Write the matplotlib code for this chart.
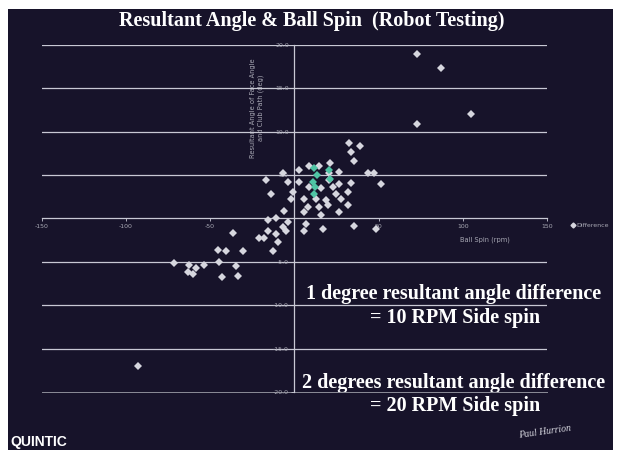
import matplotlib
matplotlib.use("Agg")
import matplotlib.pyplot as plt
from matplotlib.patches import Rectangle
from matplotlib.lines import Line2D

# ---- data ----
spin_main = [73.0, 87.3, 105.1, 73.0, -92.6,
             -71.3, -62.4, -58.4, -63.4, -60.4, -53.4, -44.5, -45.5, -40.6, -36.6,
             -30.7, -34.6, -43.2, -33.7, -12.9, -9.9, -10.9, -20.8, -17.8, -15.8,
             -4.9, -6.9,
             32.7, 39.0, 33.7, 35.6, 21.2, 14.4, 8.5, 3.0, 26.7, 43.5, 47.5, -6.9,
             20.8, -16.8, -4.0, 3.0, 20.8, 26.7, 33.7, 51.5, 8.9, 15.9, 22.7, -13.8,
             -1.0, 24.8, 31.7, -2.0, 5.9, 12.9, 18.8, 27.7, 7.9, 14.8, 19.8, 31.7,
             -5.9, 5.9, 15.9, 26.7, -15.9, -10.9, -4.0, 6.9, 16.8, 35.6, 48.5, 5.9]
angle_main = [19.0, 17.3, 12.0, 10.9, -17.0,
              -5.1, -5.35, -5.75, -6.2, -6.4, -5.35, -5.05, -3.6, -3.7, -1.7,
              -3.8, -5.5, -6.7, -6.6, -3.8, -2.7, -1.75, -2.2, -2.3, -1.4,
              -1.4, -1.0,
              8.7, 8.4, 7.7, 6.6, 6.4, 6.0, 6.0, 5.6, 5.35, 5.2, 5.2, 5.2,
              5.2, 4.4, 4.2, 4.2, 4.4, 4.0, 4.1, 4.0, 3.6, 3.55, 3.6, 2.85,
              3.0, 2.85, 3.1, 2.3, 2.3, 2.3, 2.1, 2.3, 1.3, 1.3, 1.5, 1.5,
              0.9, 0.7, 0.35, 0.7, -0.2, 0.0, -0.4, -0.6, -1.2, -0.9, -1.2, -1.4]
spin_teal = [11.9, 13.7, 11.3, 12.5, 11.9, 20.8, 21.4]
angle_teal = [5.8, 5.0, 4.2, 3.6, 2.85, 5.6, 4.6]

x_ticks = [-150, -100, -50, 0, 50, 100, 150]
y_ticks = [-20, -15, -10, -5, 0, 5, 10, 15, 20]

title = "Resultant Angle & Ball Spin  (Robot Testing)"
notes = ["1 degree resultant angle difference", "= 10 RPM Side spin",
         "2 degrees resultant angle difference", "= 20 RPM Side spin"]

W, H = 622, 450
BG = "#17132a"
fig = plt.figure(figsize=(W / 100, H / 100), dpi=100)
fig.patch.set_facecolor("white")
bg = Rectangle((8 / W, 0), (613 - 8) / W, (H - 9) / H,
               transform=fig.transFigure, facecolor=BG,
               edgecolor="none", zorder=-10)
fig.patches.append(bg)

ax = fig.add_axes([41.7 / W, 1 - 392 / H, (547 - 41.7) / W, (392 - 45) / H])
ax.set_zorder(5)
ax.set_facecolor("none")
ax.set_xlim(-150, 150)
ax.set_ylim(-20, 20)

for y in y_ticks:
    if y == -20:
        ax.axhline(y, color="#8c8c98", lw=0.7, zorder=1, clip_on=False)
    elif y != 0:
        ax.axhline(y, color="#c8c8d4", lw=0.9, zorder=1)

ax.spines["left"].set_position(("data", 0))
ax.spines["bottom"].set_position(("data", 0))
ax.spines["top"].set_visible(False)
ax.spines["right"].set_visible(False)
for s in ("left", "bottom"):
    ax.spines[s].set_color("#c8c8d4")
    ax.spines[s].set_linewidth(0.9)

ax.set_xticks(x_ticks)
ax.set_xticklabels([("" if v == 0 else str(v)) for v in x_ticks])
ax.set_yticks(y_ticks)
ax.set_yticklabels([("" if v == 0 else f"{v:.1f}") for v in y_ticks])
ax.tick_params(axis="both", colors="#c8c8d4", labelcolor="#a8a8b4",
               labelsize=4.5, length=2, width=0.6, pad=2)

ax.plot(spin_main, angle_main, linestyle="none", marker="D", markersize=3.6,
        color="#d6d6de", markeredgewidth=0, zorder=3)
ax.plot(spin_teal, angle_teal, linestyle="none", marker="D", markersize=3.6,
        color="#4fc4a4", markeredgewidth=0, zorder=4)

fig.text(257 / W, 1 - 108 / H,
         "Resultant Angle of Face Angle\nand Club Path (deg)",
         rotation=90, ha="center", va="center", fontsize=4.8, color="#a8a8b4",
         linespacing=1.3)
fig.text(485 / W, 1 - 240 / H, "Ball Spin (rpm)", ha="center", va="center",
         fontsize=4.8, color="#a8a8b4")

handle = Line2D([], [], linestyle="none", marker="D", markersize=2.5,
                color="#d6d6de")
leg = ax.legend([handle], ["Difference"], loc="center left",
                bbox_to_anchor=(568 / W, 1 - 225 / H),
                bbox_transform=fig.transFigure, frameon=False, fontsize=4.5,
                handlelength=0.6, handletextpad=0.3, borderpad=0)
for t in leg.get_texts():
    t.set_color("#a8a8b4")

serif = ["Liberation Serif", "DejaVu Serif"]
fig.text(312 / W, 1 - 21 / H, title, ha="center", va="center", fontsize=14.5,
         fontweight="bold", color="white", family=serif)
for txt, (xc, yc) in zip(notes, [(454, 294), (455, 318), (454, 383), (455, 406)]):
    fig.text(xc / W, 1 - yc / H, txt, ha="center", va="center", fontsize=14.5,
             fontweight="bold", color="white", family=serif)

fig.text(10 / W, 1 - 449 / H, "QUINTIC", ha="left", va="bottom", fontsize=10,
         fontweight="bold", color="white", family=["Liberation Sans", "DejaVu Sans"])
fig.text(545 / W, 1 - 432 / H, "Paul Hurrion", ha="center", va="center",
         fontsize=7, style="italic", color="#d8d8e0", rotation=8, family=serif)

fig.savefig("out.png", dpi=100, facecolor=fig.get_facecolor())
